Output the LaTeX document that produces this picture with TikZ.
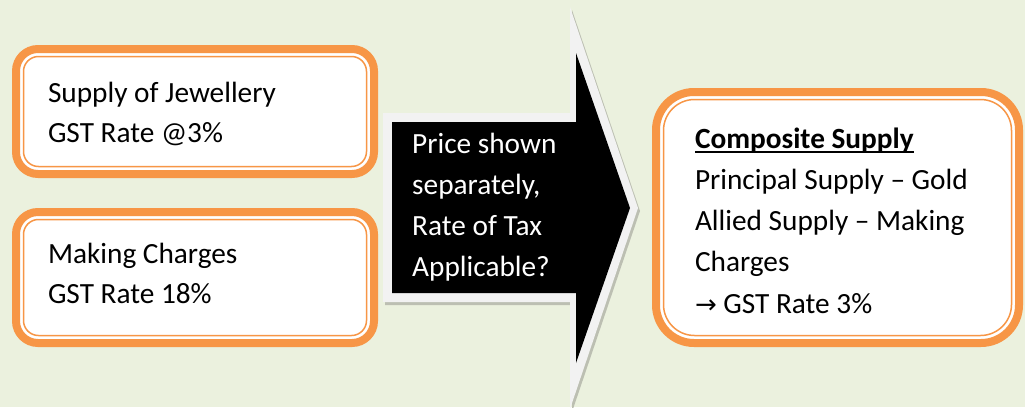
\documentclass[tikz,border=0pt]{standalone}
\usepackage{fontspec}
\setmainfont{Carlito}
\newfontfamily\frecciafont{DejaVu Sans}
\definecolor{sfondo}{HTML}{EBF1DE}
\definecolor{arancio}{HTML}{F79646}
\definecolor{grigio}{HTML}{F2F2F2}
\definecolor{ombra}{HTML}{BCBFB2}
\newcommand{\sottolinea}[1]{\setbox0\hbox{#1}\rlap{\rule[-5pt]{\wd0}{1.8pt}}\box0}
\tikzset{
  box/.style={draw=arancio, line width=8pt, fill=white, outer sep=0pt,
    inner ysep=0pt, align=flush left, font=\fontsize{29.3}{40}\selectfont},
  riga/.style={draw=arancio, line width=1.5pt},
  testo/.style={text=white, align=left, inner sep=0pt,
    font=\fontsize{29.3}{40.8}\selectfont}
}
\begin{document}
\begin{tikzpicture}[x=1pt,y=-1pt]
        %sfondo
        \fill[sfondo] (0,0) rectangle (1025,407);
        \useasboundingbox (0,0) rectangle (1025,407);

        %box a sinistra
        \node[box, rounded corners=22pt, minimum width=358pt, minimum height=125pt,
          text width=294pt, inner xsep=32pt] (gioielli) at (195,111.5)
          {\rule{0pt}{31pt}Supply of Jewellery\\GST Rate @3\%\rule[-10pt]{0pt}{10pt}};
        \draw[riga, rounded corners=15pt] ([xshift=7.5pt,yshift=-7.5pt]gioielli.north west)
          rectangle ([xshift=-7.5pt,yshift=7.5pt]gioielli.south east);

        \node[box, rounded corners=22pt, minimum width=358pt, minimum height=131pt,
          text width=294pt, inner xsep=32pt] (lavoro) at (195,277.5)
          {\rule{0pt}{23pt}Making Charges\\GST Rate 18\%\rule[-12pt]{0pt}{12pt}};
        \draw[riga, rounded corners=15pt] ([xshift=7.5pt,yshift=-7.5pt]lavoro.north west)
          rectangle ([xshift=-7.5pt,yshift=7.5pt]lavoro.south east);

        %freccia
        \fill[ombra] (385,116)--(572,116)--(572,10)--(640,211)--(572,412)
          --(572,305)--(385,305)--cycle;
        \fill[grigio] (383,113)--(570,113)--(570,7)--(638,208)--(570,409)
          --(570,302)--(383,302)--cycle;
        \fill[black] (392,122)--(576,122)--(576,53)--(630,208)--(576,363)
          --(576,293)--(392,293)--cycle;
        \node[testo, anchor=west] (domanda) at (412,207)
          {Price shown\\separately,\\Rate of Tax\\Applicable?};

        %box a destra
        \node[box, rounded corners=38pt, minimum width=363pt, minimum height=251pt,
          text width=285pt, inner xsep=39pt, font=\fontsize{29.3}{41.25}\selectfont]
          (composta) at (837.5,217.5)
          {\rule{0pt}{36pt}\sottolinea{\textbf{Composite Supply}}\\Principal Supply -- Gold\\
           Allied Supply -- Making\\Charges\\{\frecciafont\fontsize{26}{40}\selectfont →} GST Rate 3\%\rule[-10pt]{0pt}{10pt}};
        \draw[riga, rounded corners=31pt] ([xshift=7.5pt,yshift=-7.5pt]composta.north west)
          rectangle ([xshift=-7.5pt,yshift=7.5pt]composta.south east);

    \end{tikzpicture}
\end{document}
